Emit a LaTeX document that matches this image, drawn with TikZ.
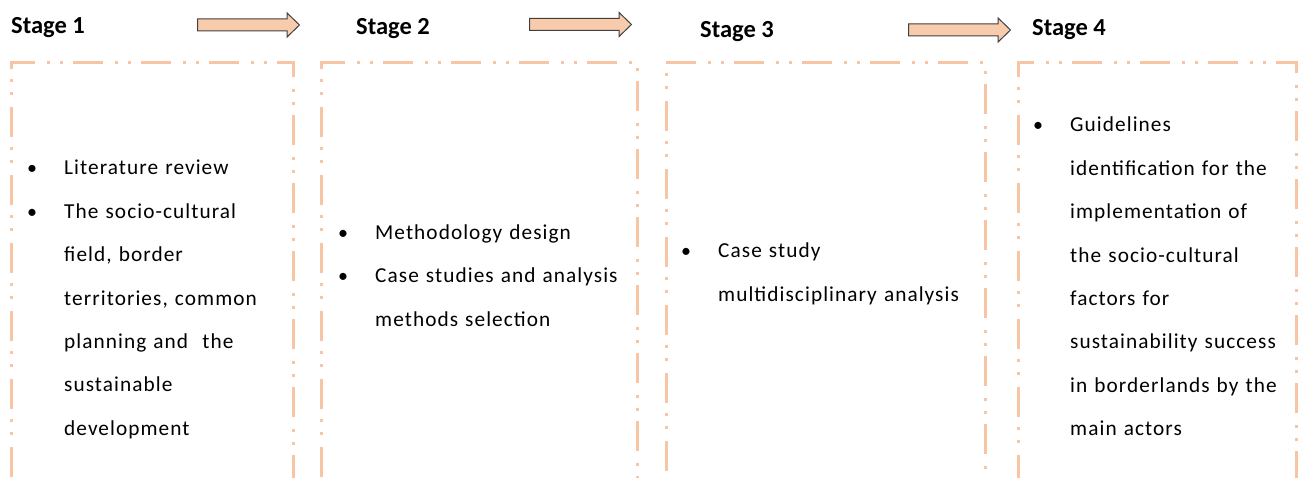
\documentclass[tikz,border=0pt]{standalone}
\usepackage{fontspec}
\setmainfont{Carlito}
\newfontfamily\bodyfont[LetterSpace=5]{Carlito}
\usetikzlibrary{shapes.arrows}

\definecolor{peach}{RGB}{248,203,173}
\definecolor{peachline}{RGB}{247,197,164}
\definecolor{arrowedge}{RGB}{64,64,64}

\tikzset{
  stagebox/.style={draw=peachline, line width=3pt, outer sep=0pt, inner sep=0pt,
    dash pattern=on 30pt off 10pt on 3pt off 10pt on 3pt off 12pt,
    anchor=north west, minimum width=#1, minimum height=480pt},
  stagelabel/.style={anchor=base west, inner sep=0pt, font=\fontsize{24.5}{28}\selectfont\bfseries},
  flowarrow/.style={single arrow, draw=arrowedge, fill=peach, line width=1pt, inner sep=0pt,
    inner ysep=5.5pt, minimum height=102pt, single arrow head extend=6pt,
    single arrow tip angle=88, anchor=tail},
  itemtext/.style={anchor=base west, inner sep=0pt, align=left, text width=280pt,
    font=\bodyfont\fontsize{21.3}{43.4}\selectfont},
  bulletmark/.style={anchor=base west, inner sep=0pt, font=\fontsize{20}{24}\selectfont},
}

\begin{document}
\begin{tikzpicture}[x=1pt, y=-1pt]
  \useasboundingbox (0,0) rectangle (1301,478);

  % stage headers and arrows
  \node[stagelabel] (stage1) at (11,34) {Stage 1};
  \node[stagelabel] (stage2) at (356,35) {Stage 2};
  \node[stagelabel] (stage3) at (700,38) {Stage 3};
  \node[stagelabel] (stage4) at (1032,36) {Stage 4};
  \node[flowarrow] (arrowA) at (197,25) {};
  \node[flowarrow] (arrowB) at (529,24.5) {};
  \node[flowarrow] (arrowC) at (908,30) {};

  % open boxes (bottom edge is off the page)
  \node[stagebox=282pt] (box1) at (11,63) {};
  \node[stagebox=316pt] (box2) at (321,63) {};
  \node[stagebox=319pt] (box3) at (666,63) {};
  \node[stagebox=278pt] (box4) at (1018,63) {};

  % stage 1
  \node[itemtext] (lit) at (64,175) {Literature review};
  \node[itemtext] (field) at (64,218.4) {The socio-cultural\\ field, border\\ territories, common\\ planning and \ the\\ sustainable\\ development};
  % stage 2
  \node[itemtext] (method) at (375,239.5) {Methodology design};
  \node[itemtext] (cases) at (375,283) {Case studies and analysis\\ methods selection};
  % stage 3
  \node[itemtext] (casestudy) at (718,257.7) {Case study\\ multidisciplinary analysis};
  % stage 4
  \node[itemtext] (guide) at (1070,132) {Guidelines\\ identification for the\\ implementation of\\ the socio-cultural\\ factors for\\ sustainability success\\ in borderlands by the\\ main actors};

  \foreach \t in {lit,field,method,cases,casestudy,guide}
    \node[bulletmark] (\t-b) at ([xshift=-37pt]\t.base west) {\textbullet};
\end{tikzpicture}
\end{document}
